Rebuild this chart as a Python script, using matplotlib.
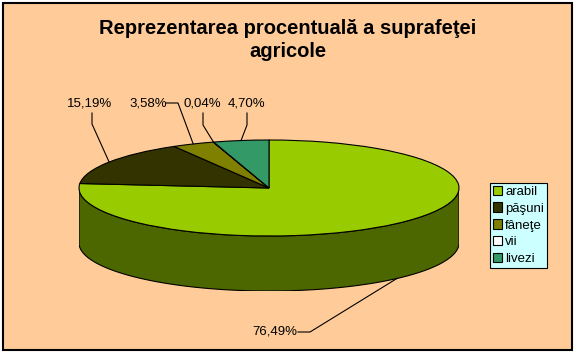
import numpy as np
import matplotlib
matplotlib.use("Agg")
import matplotlib.pyplot as plt
from matplotlib.patches import Rectangle, Polygon
from matplotlib.lines import Line2D

plt.rcParams['font.family'] = ['Liberation Sans', 'DejaVu Sans']

categories = ['arabil', 'păşuni', 'fâneţe', 'vii', 'livezi']
values = [76.49, 15.19, 3.58, 0.04, 4.70]
labels = ['76,49%', '15,19%', '3,58%', '0,04%', '4,70%']
top_colors = ['#99CC00', '#333300', '#808000', '#FFFFFF', '#339966']
side_colors = ['#4C6600', '#1A1A00', '#404000', '#808080', '#1A4D33']

W, H = 576, 354
DEPTH = 55 / 48  # side height in pie units


def pix(x, y):
    # image pixel (from top-left) -> figure fraction
    return (x / W, 1 - y / H)


fig = plt.figure(figsize=(5.76, 3.54), dpi=100)
fig.patch.set_facecolor('white')
fig.patches.append(Rectangle(pix(3, 350), 569 / W, 347 / H, transform=fig.transFigure,
                             facecolor='#FFCC99', edgecolor='black', linewidth=1.5, zorder=-5))

fig.text(*pix(288, 40), 'Reprezentarea procentuală a suprafeţei\nagricole',
         ha='center', va='center', fontsize=14.5, fontweight='bold', linespacing=1.3)

# pie axes: top ellipse spans x 79..459, y 140..236, side below
ax = fig.add_axes([79 / W, 1 - 291 / H, 380 / W, 151 / H], zorder=1)
wedges, _ = ax.pie(values, colors=top_colors, startangle=90, counterclock=False,
                   wedgeprops=dict(edgecolor='black', linewidth=0.8))
ax.set_aspect('auto')
ax.set_xlim(-1, 1)
ax.set_ylim(-1 - DEPTH, 1)
ax.axis('off')

# side walls (front half only)
for w, sc in zip(wedges, side_colors):
    a1, a2 = w.theta1 % 360, w.theta2 % 360
    if a2 <= a1:
        a2 += 360
    lo, hi = max(a1, 180), min(a2, 360)
    if hi <= lo:
        continue
    t = np.radians(np.linspace(lo, hi, 200))
    xs = np.cos(t)
    ys = np.sin(t)
    pts = np.column_stack([np.r_[xs, xs[::-1]], np.r_[ys, ys[::-1] - DEPTH]])
    ax.add_patch(Polygon(pts, closed=True, facecolor=sc, edgecolor='black',
                         linewidth=0.8, zorder=0))

# labels with leader lines (text centre, bend point) in image pixels
label_pos = {
    0: ((275, 332), (310, 332), 'side'),
    1: ((90, 103), (92, 124), 'top'),
    2: ((148, 103), (178, 103), 'top'),
    3: ((202, 103), (203, 125), 'top'),
    4: ((247, 103), (247, 125), 'top'),
}
for i, w in enumerate(wedges):
    (tx, ty), (bx, by), where = label_pos[i]
    mid = np.radians((w.theta1 + w.theta2) / 2)
    px, py = np.cos(mid), np.sin(mid)
    if where == 'side':
        py -= DEPTH
    ex, ey = fig.transFigure.inverted().transform(ax.transData.transform((px, py)))
    if i == 0:
        sx, sy = pix(298, 332)
    elif i == 2:
        sx, sy = pix(166, 103)
    else:
        sx, sy = pix(bx, ty + 10)
    bfx, bfy = pix(bx, by)
    fig.add_artist(Line2D([sx, bfx, ex], [sy, bfy, ey], color='black', linewidth=0.8,
                          transform=fig.transFigure))
    fig.text(*pix(tx, ty), labels[i], ha='center', va='center', fontsize=9.5)

leg = fig.legend(wedges, categories, loc='upper left', bbox_to_anchor=pix(490, 183),
                 fontsize=9.5, frameon=True, fancybox=False, framealpha=1,
                 facecolor='#CCFFFF', edgecolor='black', handlelength=0.7,
                 handleheight=0.7, handletextpad=0.25, labelspacing=0.35,
                 borderpad=0.2, borderaxespad=0)
leg.get_frame().set_linewidth(0.8)
leg.set_zorder(2)

fig.savefig('out.png', dpi=100)
